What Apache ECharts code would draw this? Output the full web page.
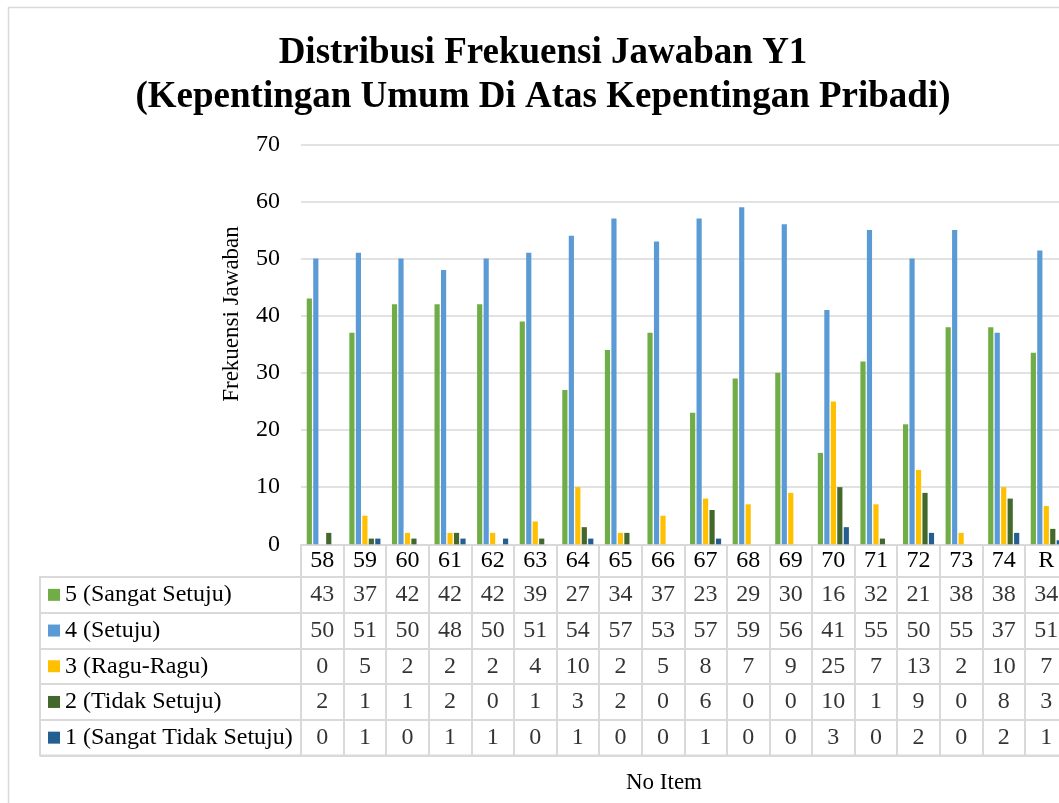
<!DOCTYPE html>
<html>
<head>
<meta charset="utf-8">
<script src="https://cdn.jsdelivr.net/npm/echarts@6/dist/echarts.min.js"></script>
<style>
  html, body { margin: 0; padding: 0; background: #fff; }
  #chart { width: 1059px; height: 803px; }
</style>
</head>
<body>
<div id="chart"></div>
<script>
// data
const categories = ['58', '59', '60', '61', '62', '63', '64', '65', '66', '67', '68', '69', '70', '71', '72', '73', '74', 'R'];
const sangatSetuju = [43, 37, 42, 42, 42, 39, 27, 34, 37, 23, 29, 30, 16, 32, 21, 38, 38, 33.5];
const setuju = [50, 51, 50, 48, 50, 51, 54, 57, 53, 57, 59, 56, 41, 55, 50, 55, 37, 51.4];
const raguRagu = [0, 5, 2, 2, 2, 4, 10, 2, 5, 8, 7, 9, 25, 7, 13, 2, 10, 6.7];
const tidakSetuju = [2, 1, 1, 2, 0, 1, 3, 2, 0, 6, 0, 0, 10, 1, 9, 0, 8, 2.7];
const sangatTidakSetuju = [0, 1, 0, 1, 1, 0, 1, 0, 0, 1, 0, 0, 3, 0, 2, 0, 2, 0.7];
const seriesNames = ['5 (Sangat Setuju)', '4 (Setuju)', '3 (Ragu-Ragu)', '2 (Tidak Setuju)', '1 (Sangat Tidak Setuju)'];
const seriesColors = ['#70ad47', '#5b9bd5', '#ffc000', '#43682b', '#255e91'];

const rows = [sangatSetuju, setuju, raguRagu, tidakSetuju, sangatTidakSetuju];
const font = "'Liberation Serif', 'Times New Roman', serif";
const lineColor = '#d9d9d9';

// cells of the data table: [column, row, value]
var cells = [];
for (var r = 0; r < rows.length; r++) {
  for (var c = 0; c < categories.length; c++) {
    cells.push([c, r, rows[r][c]]);
  }
}

var barSeries = [];
for (var i = 0; i < rows.length; i++) {
  barSeries.push({
    name: seriesNames[i],
    type: 'bar',
    xAxisIndex: 0,
    yAxisIndex: 0,
    data: rows[i],
    itemStyle: { color: seriesColors[i] },
    barGap: '25%',
    barCategoryGap: '27%'
  });
}

let myChart = echarts.init(document.getElementById('chart'));
var option = {
  animation: false,
  color: seriesColors,
  title: {
    text: 'Distribusi Frekuensi Jawaban Y1\n(Kepentingan Umum Di Atas Kepentingan Pribadi)',
    left: 538,
    top: 26,
    textAlign: 'center',
    textStyle: {
      fontFamily: font,
      fontSize: 37,
      fontWeight: 'bold',
      lineHeight: 44,
      color: '#000'
    }
  },
  legend: {
    orient: 'vertical',
    left: 48,
    top: 577,
    padding: 0,
    itemGap: 0,
    itemWidth: 12,
    itemHeight: 12,
    icon: 'rect',
    selectedMode: false,
    data: seriesNames,
    textStyle: { fontFamily: font, fontSize: 24, lineHeight: 35.7, color: '#000' }
  },
  grid: [
    { left: 301, top: 144.3, width: 766.6, height: 400, outerBoundsMode: 'none' },
    { left: 301, top: 577, width: 766.6, height: 178.5, outerBoundsMode: 'none', show: true, borderColor: lineColor, borderWidth: 2 },
    { left: 40, top: 577, width: 261, height: 178.5, outerBoundsMode: 'none', show: true, borderColor: lineColor, borderWidth: 2 }
  ],
  xAxis: [
    {
      type: 'category',
      gridIndex: 0,
      data: categories,
      axisLine: { lineStyle: { color: lineColor, width: 2 } },
      axisTick: { show: true, length: 33, interval: 0, lineStyle: { color: lineColor, width: 2 } },
      axisLabel: { interval: 0, margin: 0, lineHeight: 33, fontFamily: font, fontSize: 24, color: '#000' }
    },
    {
      type: 'category',
      gridIndex: 1,
      data: categories,
      axisLine: { show: false },
      axisTick: { show: false },
      axisLabel: { show: false },
      splitLine: { show: true, interval: 0, lineStyle: { color: lineColor, width: 2 } }
    },
    { type: 'value', gridIndex: 2, show: false }
  ],
  yAxis: [
    {
      type: 'value',
      gridIndex: 0,
      min: 0,
      max: 70,
      interval: 10,
      axisLine: { show: false },
      axisTick: { show: false },
      axisLabel: { margin: 21, fontFamily: font, fontSize: 24, color: '#000' },
      splitLine: { lineStyle: { color: lineColor, width: 1.5 } }
    },
    {
      type: 'category',
      gridIndex: 1,
      inverse: true,
      data: seriesNames,
      axisLine: { show: false },
      axisTick: { show: false },
      axisLabel: { show: false },
      splitLine: { show: true, interval: 0, lineStyle: { color: lineColor, width: 2 } }
    },
    {
      type: 'category',
      gridIndex: 2,
      inverse: true,
      data: seriesNames,
      axisLine: { show: false },
      axisTick: { show: false },
      axisLabel: { show: false },
      splitLine: { show: true, interval: 0, lineStyle: { color: lineColor, width: 2 } }
    }
  ],
  graphic: [
    {
      type: 'rect',
      silent: true,
      z: -10,
      shape: { x: 8.5, y: 7.5, width: 1200, height: 1000 },
      style: { fill: 'none', stroke: lineColor, lineWidth: 1.5 }
    },
    {
      type: 'text',
      x: 232,
      y: 314,
      rotation: Math.PI / 2,
      style: { text: 'Frekuensi Jawaban', fontFamily: font, fontSize: 23, fill: '#000', align: 'center', verticalAlign: 'middle' }
    },
    {
      type: 'text',
      x: 664,
      y: 783,
      style: { text: 'No Item', fontFamily: font, fontSize: 23, fill: '#000', align: 'center', verticalAlign: 'middle' }
    }
  ],
  tooltip: { show: false },
  series: barSeries.concat([{
    name: 'table',
    type: 'scatter',
    xAxisIndex: 1,
    yAxisIndex: 1,
    symbolSize: 1,
    silent: true,
    itemStyle: { color: 'rgba(0,0,0,0)' },
    label: {
      show: true,
      position: 'inside',
      fontFamily: font,
      fontSize: 24,
      color: '#000',
      formatter: function (p) { return Math.round(p.value[2]); }
    },
    data: cells
  }])
};
myChart.setOption(option);
window.addEventListener('resize', function () {
  myChart.resize();
});
</script>
</body>
</html>
